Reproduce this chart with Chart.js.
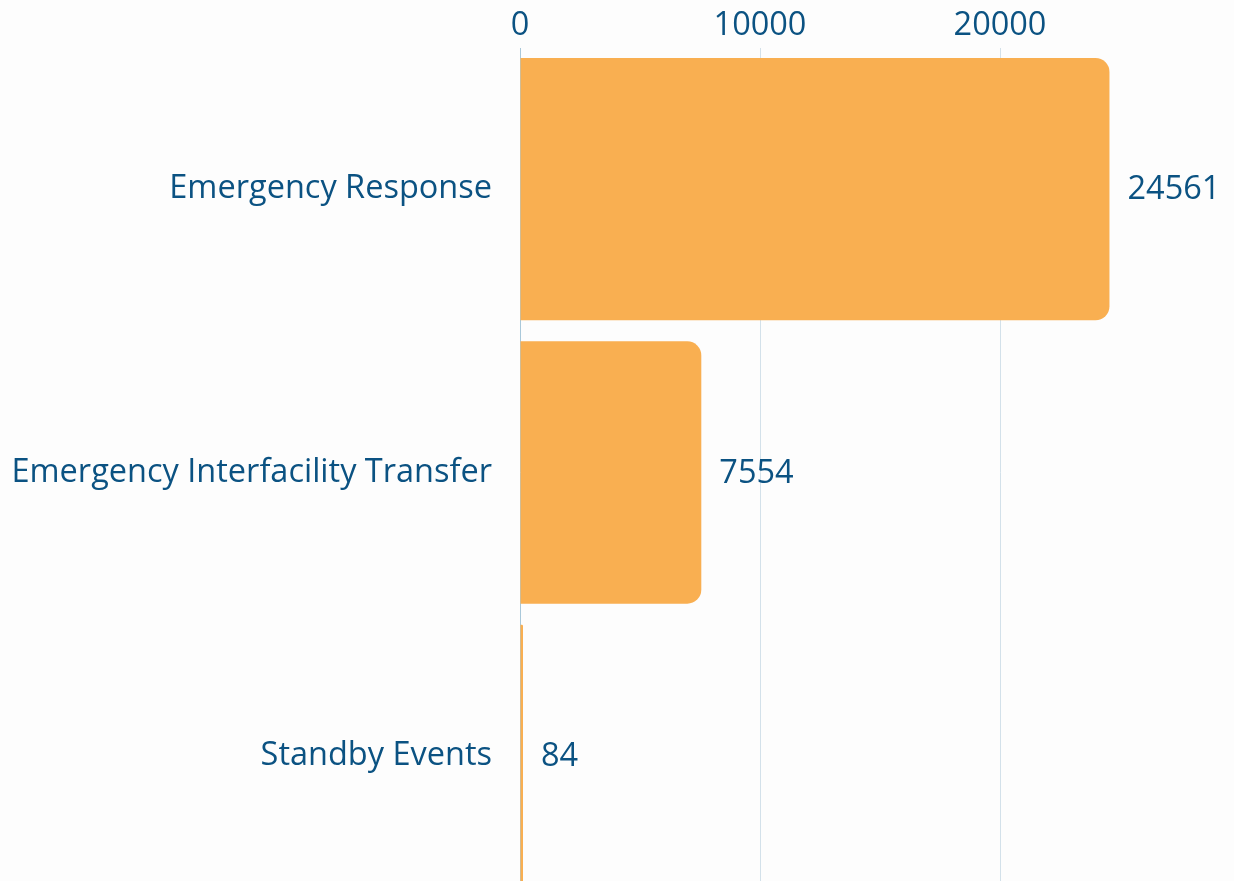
<!DOCTYPE html>
<html>
<head>
<meta charset="utf-8">
<script src="https://cdn.jsdelivr.net/npm/chart.js@4"></script>
<style>
html,body{margin:0;padding:0;background:#fdfdfd;overflow:hidden;}
canvas{display:block;}
</style>
</head>
<body>
<canvas id="c" width="1234" height="945"></canvas>
<script>
const categories = ["Emergency Response", "Emergency Interfacility Transfer", "Standby Events"];
const values = [24561, 7554, 84];
const tickValues = [0, 10000, 20000];

const textColor = "#0b5282";
const fontFamily = "'Open Sans', sans-serif";
const fontSize = 32.5;

const valueLabels = {
  id: "valueLabels",
  afterDatasetsDraw(chart) {
    const ctx = chart.ctx;
    const meta = chart.getDatasetMeta(0);
    ctx.save();
    ctx.fillStyle = textColor;
    ctx.font = fontSize + "px " + fontFamily;
    ctx.textAlign = "left";
    ctx.textBaseline = "middle";
    meta.data.forEach((bar, i) => {
      ctx.fillText(String(values[i]), bar.x + 18, bar.y + 1);
    });
    ctx.restore();
  }
};

new Chart(document.getElementById("c"), {
  type: "bar",
  data: {
    labels: categories,
    datasets: [{
      data: values,
      backgroundColor: "#f9af51",
      borderRadius: 14,
      borderSkipped: "start",
      barPercentage: 0.926,
      categoryPercentage: 1,
      minBarLength: 3
    }]
  },
  options: {
    indexAxis: "y",
    responsive: false,
    animation: false,
    layout: { padding: 0 },
    plugins: { legend: { display: false }, tooltip: { enabled: false } },
    scales: {
      x: {
        position: "top",
        min: 0,
        max: 29750,
        afterFit(scale) { scale.height = 47; },
        afterBuildTicks(scale) { scale.ticks = tickValues.map(v => ({ value: v })); },
        ticks: {
          color: textColor,
          font: { family: fontFamily, size: fontSize },
          padding: 2,
          maxRotation: 0,
          callback: (v) => String(v)
        },
        grid: {
          color: (ctx) => (ctx.index === 0 ? "#a9c8da" : "#d3e1ea"),
          drawTicks: false,
          lineWidth: 1
        },
        border: { display: false }
      },
      y: {
        afterFit(scale) { scale.width = 520; },
        ticks: {
          color: textColor,
          font: { family: fontFamily, size: fontSize },
          padding: 28
        },
        grid: { display: false, drawTicks: false },
        border: { display: false }
      }
    }
  },
  plugins: [valueLabels]
});
</script>
</body>
</html>
